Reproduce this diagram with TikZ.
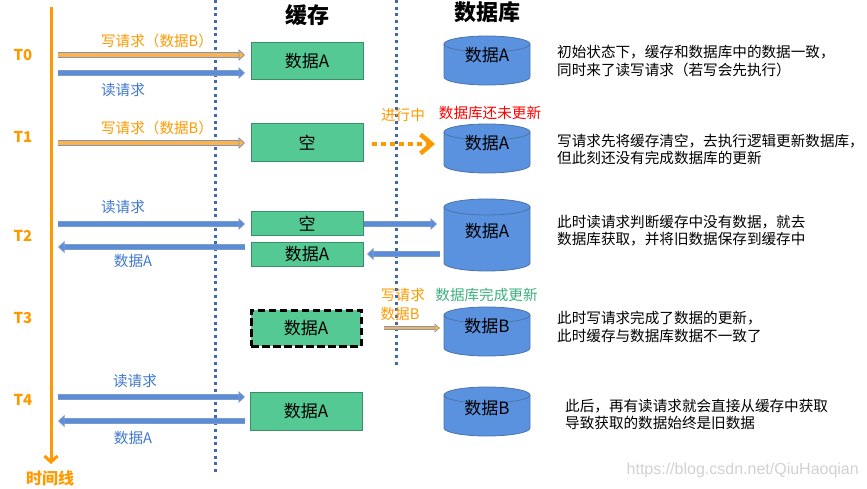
\documentclass[tikz,border=0pt]{standalone}
\usepackage{fontspec}
\setmainfont{Noto Sans CJK SC}
\newfontfamily\latinwm{Liberation Sans}
\usetikzlibrary{arrows.meta}
\definecolor{orangeA}{HTML}{FF9900}
\definecolor{orangeF}{HTML}{FFB347}
\definecolor{arrowO}{HTML}{7F96BC}
\definecolor{blueF}{HTML}{5A8CD8}
\definecolor{blueL}{HTML}{7F9CC8}
\definecolor{blueT}{HTML}{3F78D0}
\definecolor{greenF}{HTML}{55C994}
\definecolor{greenB}{HTML}{3A8F68}
\definecolor{greenT}{HTML}{3DB07E}
\definecolor{cylF}{HTML}{5B92E0}
\definecolor{cylB}{HTML}{4A74A8}
\definecolor{dotC}{HTML}{4169A8}
\newcommand{\dbshape}[4]{% name, centre x, top y, bottom y
  \filldraw[cylstyle] (#2-43,#3+8) arc (180:0:43pt and 8pt) -- (#2+43,#4-8) arc (0:-180:43pt and 8pt) -- cycle;
  \draw[cylstyle] (#2-43,#3+8) arc (180:360:43pt and 8pt);
  \coordinate (#1) at (#2,#3);
}
\tikzset{
  fs/.style={font=\fontsize{#1}{#1}\selectfont},
  cylstyle/.style={draw=cylB,line width=.8pt,fill=cylF},
  databox/.style={draw=greenB,line width=1pt,fill=greenF,minimum width=112pt,inner sep=0pt,fs=17,text=black},
  dashbox/.style={draw=black,line width=3pt,dash pattern=on 7.5pt off 3.5pt,fill=greenF,minimum width=110pt,minimum height=36pt,inner sep=0pt,fs=17,text=black},
  dbtext/.style={fs=17,text=black,inner sep=0pt},
  bluearrow/.style={draw=blueL,double=blueF,double distance=3.6pt,line width=.9pt,-{Triangle[length=6.5pt,width=12pt,fill=blueF,color=blueL,line width=.8pt]}},
  orangearrow/.style={draw=arrowO,double=orangeF,double distance=4.2pt,line width=1pt,-{Triangle[length=6.5pt,width=12pt,fill=orangeF,color=arrowO,line width=.8pt]}},
  thinorange/.style={draw=arrowO,double=orangeF,double distance=2.4pt,line width=.8pt,-{Triangle[length=5.5pt,width=9pt,fill=orangeF,color=arrowO,line width=.6pt]}},
  divider/.style={draw=dotC,line width=3pt,dash pattern=on 3pt off 3.7pt},
  tlabel/.style={font=\bfseries\fontsize{15}{15}\selectfont,text=orangeA,inner sep=0pt},
  orangelbl/.style={fs=14.6,text=orangeA,inner sep=0pt},
  bluelbl/.style={fs=14.6,text=blueT,inner sep=0pt},
  note/.style={font=\fontsize{14.6}{17.5}\selectfont,text=black,align=left,anchor=west,inner sep=0pt},
  title/.style={font=\bfseries\fontsize{#1}{#1}\selectfont,text=black,inner sep=0pt},
}
\begin{document}
\begin{tikzpicture}[x=1pt,y=-1pt]
\useasboundingbox (0,0) rectangle (867,489);
% dividers
\coordinate (d1a) at (215,0); \coordinate (d1b) at (215,473);
\coordinate (d2a) at (396,0); \coordinate (d2b) at (396,366);
\draw[divider] (d1a) -- (d1b);
\draw[divider] (d2a) -- (d2b);
% timeline
\coordinate (tla) at (51,7); \coordinate (tlb) at (51,464);
\draw[orangeA,line width=3pt,-{Straight Barb[length=6pt,width=13pt,line width=3pt]}] (tla) -- (tlb);
\node[font=\bfseries\fontsize{16}{16}\selectfont,text=orangeA,inner sep=0pt] (tltext) at (50,478) {时间线};
\node[tlabel] (t0) at (23,55) {T0};
\node[tlabel] (t1) at (23,137) {T1};
\node[tlabel] (t2) at (23,236) {T2};
\node[tlabel] (t3) at (23,318) {T3};
\node[tlabel] (t4) at (23,400) {T4};
% titles
\node[title=22] (tcache) at (307,15.5) {缓存};
\node[title=22] (tdb) at (487,12.5) {数据库};
% cache boxes
\node[databox,minimum height=37pt] (c0) at (307,61) {数据A};
\node[databox,minimum height=38pt] (c1) at (307,143) {空};
\node[databox,minimum height=23pt] (c2a) at (307,223.5) {空};
\node[databox,minimum height=24pt] (c2b) at (307,254) {数据A};
\node[dashbox] (c3) at (306,328) {数据A};
\node[databox,minimum height=38pt] (c4) at (306,411) {数据A};
% databases
\dbshape{s0}{487}{36}{85}
\dbshape{s1}{487}{124}{173}
\dbshape{s2}{487}{199}{271}
\dbshape{s3}{487}{307}{356}
\dbshape{s4}{487}{387}{436}
\node[dbtext] (s0t) at (487,55.5) {数据A};
\node[dbtext] (s1t) at (487,143) {数据A};
\node[dbtext] (s2t) at (487,231) {数据A};
\node[dbtext] (s3t) at (487,326) {数据B};
\node[dbtext] (s4t) at (487,408) {数据B};
% arrow ends
\coordinate (a0s) at (58,55); \coordinate (a0e) at (245,55);
\coordinate (a1s) at (58,73); \coordinate (a1e) at (245,73);
\coordinate (a2s) at (58,143); \coordinate (a2e) at (245,143);
\coordinate (a3s) at (58,224); \coordinate (a3e) at (245,224);
\coordinate (a4s) at (245,247); \coordinate (a4e) at (58,247);
\coordinate (a5e) at (437,224);
\coordinate (a6s) at (440,254); \coordinate (a6e) at (367,254);
\coordinate (a7s) at (384,328); \coordinate (a7e) at (440,328);
\coordinate (a8s) at (58,397); \coordinate (a8e) at (245,397);
\coordinate (a9s) at (245,421); \coordinate (a9e) at (58,421);
\coordinate (a10s) at (372,144); \coordinate (a10e) at (435,144);
\draw[orangearrow] (a0s) -- (a0e);
\draw[bluearrow] (a1s) -- (a1e);
\draw[orangearrow] (a2s) -- (a2e);
\draw[bluearrow] (a3s) -- (a3e);
\draw[bluearrow] (a4s) -- (a4e);
\draw[bluearrow] (c2a.east |- a5e) -- (a5e);
\draw[bluearrow] (a6s) -- (a6e);
\draw[thinorange] (a7s) -- (a7e);
\draw[bluearrow] (a8s) -- (a8e);
\draw[bluearrow] (a9s) -- (a9e);
\draw[orangeA,line width=4.5pt,dash pattern=on 4.5pt off 4.5pt,-{Straight Barb[length=11pt,width=19pt,line width=4.5pt]}] (a10s) -- (a10e);
% arrow labels
\node[orangelbl] (l0) at (157,41) {写请求（数据B）};
\node[bluelbl] (l1) at (123,90) {读请求};
\node[orangelbl] (l2) at (157,128) {写请求（数据B）};
\node[orangelbl] (l3) at (403,115) {进行中};
\node[fs=14.6,text=red,inner sep=0pt] (l4) at (490,113) {数据库还未更新};
\node[bluelbl] (l5) at (123,207) {读请求};
\node[bluelbl] (l6) at (133,261) {数据A};
\node[orangelbl] (l7) at (403,295) {写请求};
\node[orangelbl] (l8) at (400,314) {数据B};
\node[fs=14.6,text=greenT,inner sep=0pt] (l9) at (486.5,295) {数据库完成更新};
\node[bluelbl] (l10) at (135,381) {读请求};
\node[bluelbl] (l11) at (133,438) {数据A};
% notes
\node[note] (n0) at (557,61) {初始状态下，缓存和数据库中的数据一致，\\同时来了读写请求（若写会先执行）};
\node[note] (n1) at (557,149.5) {写请求先将缓存清空，去执行逻辑更新数据库，\\但此刻还没有完成数据库的更新};
\node[note] (n2) at (557,230.5) {此时读请求判断缓存中没有数据，就去\\数据库获取，并将旧数据保存到缓存中};
\node[note] (n3) at (557,327) {此时写请求完成了数据的更新，\\此时缓存与数据库数据不一致了};
\node[note] (n4) at (565,414.5) {此后，再有读请求就会直接从缓存中获取\\导致获取的数据始终是旧数据};
% watermark
\node[font=\latinwm\fontsize{16}{16}\selectfont,text=black!18,anchor=east,inner sep=0pt] (wm) at (859,470) {https://blog.csdn.net/QiuHaoqian};
\end{tikzpicture}
\end{document}
